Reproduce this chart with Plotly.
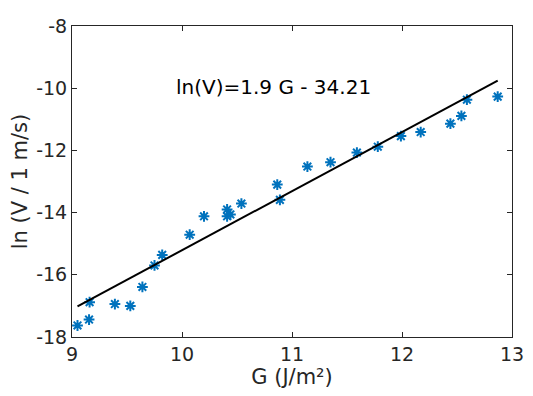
import plotly.graph_objects as go

# measured data (G in J/m^2, ln of velocity)
g_vals = [9.05, 9.155, 9.16, 9.39, 9.53, 9.64, 9.75, 9.82, 10.07, 10.2,
          10.41, 10.44, 10.41, 10.54, 10.866, 10.89, 11.14, 11.35, 11.59,
          11.78, 11.99, 12.17, 12.44, 12.54, 12.59, 12.87]
lnv_vals = [-17.63, -17.44, -16.88, -16.94, -17.0, -16.39, -15.70, -15.36,
            -14.71, -14.12, -13.90, -14.06, -14.12, -13.71, -13.10, -13.59,
            -12.52, -12.38, -12.07, -11.88, -11.54, -11.41, -11.14, -10.89,
            -10.37, -10.27]

slope = 1.9
intercept = -34.21

x_ticks = [9, 10, 11, 12, 13]
y_ticks = [-18, -16, -14, -12, -10, -8]
y_ticktext = ["-18", "-16", "-14", "-12", "-10", "-8"]

fit_x = [min(g_vals), max(g_vals)]
fit_y = [slope * x + intercept for x in fit_x]

ink = "#262626"

fig = go.Figure()

fig.add_trace(go.Scatter(
    x=g_vals, y=lnv_vals, mode="markers",
    marker={"symbol": "asterisk-open", "size": 9, "color": "#0072BD",
            "line": {"color": "#0072BD", "width": 2}},
    showlegend=False
))

fig.add_trace(go.Scatter(
    x=fit_x, y=fit_y, mode="lines",
    line={"color": "black", "width": 2},
    showlegend=False
))

fig.add_annotation(
    x=10.83, y=-9.95, xref="x", yref="y",
    text="ln(V)=1.9 G - 34.21", showarrow=False,
    font={"size": 20, "color": "black"}
)

# page body has an 8px margin, so the figure is shrunk to fit the window
fig.update_layout(
    width=525,
    height=388,
    paper_bgcolor="white",
    plot_bgcolor="white",
    font={"family": "DejaVu Sans", "size": 19, "color": ink},
    margin={"l": 63, "r": 21, "t": 7, "b": 59},
)

axis_style = dict(
    showgrid=False, zeroline=False,
    showline=True, linecolor=ink, linewidth=1, mirror="ticks",
    ticks="inside", ticklen=5, tickcolor=ink,
    tickfont={"size": 19, "color": ink},
    ticklabeloverflow="allow",
)

fig.update_xaxes(
    range=[9, 13], tickvals=x_ticks,
    title={"text": "G (J/m²)", "font": {"size": 21}, "standoff": 4},
    **axis_style
)
fig.update_yaxes(
    range=[-18, -8], tickvals=y_ticks, ticktext=y_ticktext,
    title={"text": "ln (V / 1 m/s)", "font": {"size": 21}, "standoff": 6},
    **axis_style
)

fig.write_html("out.html")
